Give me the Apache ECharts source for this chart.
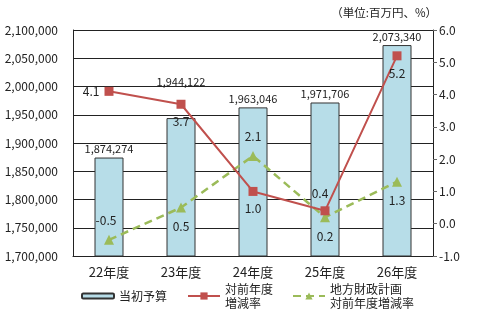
<!DOCTYPE html>
<html><head><meta charset="utf-8">
<script src="https://cdn.jsdelivr.net/npm/echarts@6/dist/echarts.min.js"></script>
<style>html,body{margin:0;padding:0;background:#fff}#c{width:480px;height:326px}</style>
</head><body><div id="c"></div>
<script>
const categories = ['22年度','23年度','24年度','25年度','26年度'];
const budget = [1874274, 1944122, 1963046, 1971706, 2073340];
const yoyRate = [4.1, 3.7, 1.0, 0.4, 5.2];
const planRate = [-0.5, 0.5, 2.1, 0.2, 1.3];
const seriesNames = ['当初予算', '対前年度増減率', '地方財政計画対前年度増減率'];
const legendText = ['当初予算', '対前年度\n増減率', '地方財政計画\n対前年度増減率'];
const unitText = '（単位:百万円、%）';

const FONT = '"Noto Sans CJK JP", sans-serif';
const fmt = v => v.toString().replace(/\B(?=(\d{3})+(?!\d))/g, ',');
const barOff = [[0,0],[0,-28],[0,0],[0,0],[0,0]];
const redPos = ['left','bottom','bottom','top','bottom'];
const greenPos = ['top','bottom','top','bottom','bottom'];
const redOff = [[2,0],[0,0],[0,0],[-5,0],[0,0]];
const greenOff = [[-3,0],[0,0],[0,0],[0,0],[0,0]];

const chart = echarts.init(document.getElementById('c'));
function legendItem(i, left, top, extra) {
  return Object.assign({
    data: [seriesNames[i]], left: left, top: top, orient: 'horizontal',
    itemWidth: 32, itemHeight: 9, padding: 0, itemGap: 4,
    formatter: () => legendText[i],
    textStyle: { fontFamily: FONT, fontSize: 12, color: '#222', lineHeight: 14,
      padding: legendText[i].includes('\n') ? [14,0,0,0] : 0 },
    selectedMode: false
  }, extra || {});
}
chart.setOption({
  animation: false,
  title: { text: unitText, right: 43, top: 7, padding: 0,
    textStyle: { fontFamily: FONT, fontSize: 11.5, fontWeight: 'normal', color: '#222' } },
  grid: { left: 73, right: 47, top: 30, bottom: 70 },
  legend: [
    legendItem(0, 81, 289, { itemHeight: 5 }),
    legendItem(1, 187, 275),
    legendItem(2, 292, 275)
  ],
  xAxis: {
    type: 'category', data: categories,
    axisLine: { onZero: false, lineStyle: { color: '#222', width: 1 } },
    axisTick: { inside: true, length: 5, lineStyle: { color: '#222' } },
    axisLabel: { fontFamily: FONT, fontSize: 13, color: '#222', margin: 10 }
  },
  yAxis: [
    { type: 'value', min: 1700000, max: 2100000, interval: 50000,
      axisLine: { show: true, lineStyle: { color: '#222' } },
      axisTick: { show: false },
      axisLabel: { fontFamily: FONT, fontSize: 12, color: '#222', margin: 15, formatter: v => fmt(v) },
      splitLine: { lineStyle: { color: '#222', width: 1 } } },
    { type: 'value', min: -1, max: 6, interval: 1, position: 'right',
      axisLine: { show: true, lineStyle: { color: '#222' } },
      axisTick: { show: true, length: 4, lineStyle: { color: '#666' } },
      axisLabel: { fontFamily: FONT, fontSize: 12, color: '#222', margin: 6, formatter: v => v.toFixed(1) },
      splitLine: { show: false } }
  ],
  series: [
    { name: seriesNames[0], type: 'bar',
      data: budget.map((v, i) => ({ value: v, label: { offset: barOff[i] } })), barWidth: 29,
      itemStyle: { color: '#b7dde8', borderColor: '#333', borderWidth: 1 },
      label: { show: true, position: 'top', distance: 3, fontFamily: FONT, fontSize: 11, color: '#222',
        formatter: p => fmt(p.value) } },
    { name: seriesNames[1], type: 'line', yAxisIndex: 1, z: 4,
      data: yoyRate.map((v, i) => ({ value: v, label: { position: redPos[i], offset: redOff[i] } })),
      symbol: 'rect', symbolSize: 9,
      lineStyle: { color: '#c0504d', width: 2 }, itemStyle: { color: '#c0504d' },
      label: { show: true, distance: 7, fontFamily: FONT, fontSize: 12, color: '#222', formatter: p => p.value.toFixed(1) } },
    { name: seriesNames[2], type: 'line', yAxisIndex: 1, z: 3,
      data: planRate.map((v, i) => ({ value: v, label: { position: greenPos[i], offset: greenOff[i] } })),
      symbol: 'triangle', symbolSize: 10,
      lineStyle: { color: '#9bbb59', width: 2.5, type: [8, 5] }, itemStyle: { color: '#9bbb59' },
      label: { show: true, distance: 8, fontFamily: FONT, fontSize: 12, color: '#222', formatter: p => p.value.toFixed(1) } }
  ]
});
</script></body></html>
